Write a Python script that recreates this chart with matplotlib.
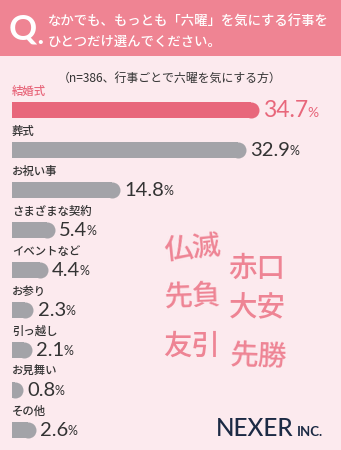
import matplotlib
matplotlib.use("Agg")
import matplotlib.pyplot as plt
from matplotlib.patches import Rectangle

# data
categories = ["結婚式", "葬式", "お祝い事", "さまざまな契約", "イベントなど",
              "お参り", "引っ越し", "お見舞い", "その他"]
values = [34.7, 32.9, 14.8, 5.4, 4.4, 2.3, 2.1, 0.8, 2.6]
highlight = [True, False, False, False, False, False, False, False, False]

question = ["なかでも、もっとも「六曜」を気にする行事を", "ひとつだけ選んでください。"]
subtitle = "（n=386、行事ごとで六曜を気にする方）"
rokuyo = [("仏滅", 193, 248, 6), ("赤口", 257, 268, 0),
          ("先負", 193, 296, 2), ("大安", 257, 308, 0),
          ("友引", 192, 346, 0), ("先勝", 259, 356, -2)]

# colours
BG = "#FCEAEE"
HEAD = "#EF8493"
PINK = "#E8677B"
GRAY = "#A3A3A8"
DARK = "#333333"
DECO = "#EE8494"
NAVY = "#1C2A44"

JP = ["Noto Sans CJK JP", "DejaVu Sans"]
NUM = ["Lato", "DejaVu Sans"]

W, H = 341, 450
PX_PER_PCT = 6.95      # horizontal scale of the bars
ZERO_PX = 17.5         # pixel x of 0 %
LEFT_PX = 12           # where bars start
ROW_PX = 40            # row spacing
FIRST_ROW_PX = 110.5   # centre of the first bar
BAR_PX = 16            # bar thickness


def fx(x):
    return x / W


def fy(y):
    return 1 - y / H


fig = plt.figure(figsize=(W / 100, H / 100), dpi=100, facecolor=BG)
fig.patches.append(Rectangle((0, fy(56)), 1, 56 / H, transform=fig.transFigure,
                             facecolor=HEAD, edgecolor="none"))

# header
fig.text(fx(22.5), fy(29), "Q", color="white", fontsize=25, family=["Lato", "DejaVu Sans"],
         fontweight="bold", ha="center", va="center")
fig.text(fx(37.5), fy(43.5), ".", color="white", fontsize=17, family=["Lato", "DejaVu Sans"],
         fontweight="heavy", ha="left", va="baseline")
fig.text(fx(48), fy(21), question[0], color="white", fontsize=9.6, family=JP,
         fontweight="medium", ha="left", va="center")
fig.text(fx(48), fy(42), question[1], color="white", fontsize=9.6, family=JP,
         fontweight="medium", ha="left", va="center")
fig.text(fx(170), fy(78), subtitle, color=DARK, fontsize=8.6, family=JP,
         ha="center", va="center")

# the bar axes start exactly where the bars start, so the round caps are clipped there
ax = fig.add_axes([LEFT_PX / W, 0, 1 - LEFT_PX / W, 1])
ax.set_facecolor("none")
ax.axis("off")
x0 = (LEFT_PX - ZERO_PX) / PX_PER_PCT
ax.set_xlim(x0, (W - ZERO_PX) / PX_PER_PCT)
ax.set_ylim((H - FIRST_ROW_PX) / ROW_PX, -FIRST_ROW_PX / ROW_PX)

r = (BAR_PX / 2) / PX_PER_PCT
cap_pt = BAR_PX * 72 / 100

for i, (cat, v, hl) in enumerate(zip(categories, values, highlight)):
    col = PINK if hl else GRAY
    tcol = PINK if hl else DARK
    ax.barh(i, max(v - r - x0, 0), left=x0, height=BAR_PX / ROW_PX, color=col, linewidth=0)
    ax.plot([v - r], [i], marker="o", markersize=cap_pt, markeredgewidth=0, color=col)
    ax.text(x0, i - 0.48, cat, color=tcol, fontsize=8.2, family=JP,
            fontweight="medium", ha="left", va="center")
    num = ax.annotate(f"{v:.1f}", xy=(v, i), xytext=(3, 0), textcoords="offset points",
                      color=tcol, fontsize=16.5 if hl else 14.5, family=NUM,
                      ha="left", va="center")
    ax.annotate("%", xy=(1, 0), xycoords=num, xytext=(-0.5, 1.5), textcoords="offset points",
                color=tcol, fontsize=10 if hl else 9, family=NUM,
                ha="left", va="bottom")

# decorative rokuyo words
for word, x, y, rot in rokuyo:
    fig.text(fx(x), fy(y), word, color=DECO, fontsize=20.5, family=JP,
             fontweight="medium", ha="center", va="center", rotation=rot)

# logo
fig.text(fx(216), fy(429), "NEXER", color=NAVY, fontsize=17.5, family=["Lato", "DejaVu Sans"],
         fontweight="medium", ha="left", va="center")
fig.text(fx(297), fy(432), "INC.", color=NAVY, fontsize=9.5, family=["Lato", "DejaVu Sans"],
         fontweight="bold", ha="left", va="center")

fig.savefig("out.png", dpi=100, facecolor=BG)
